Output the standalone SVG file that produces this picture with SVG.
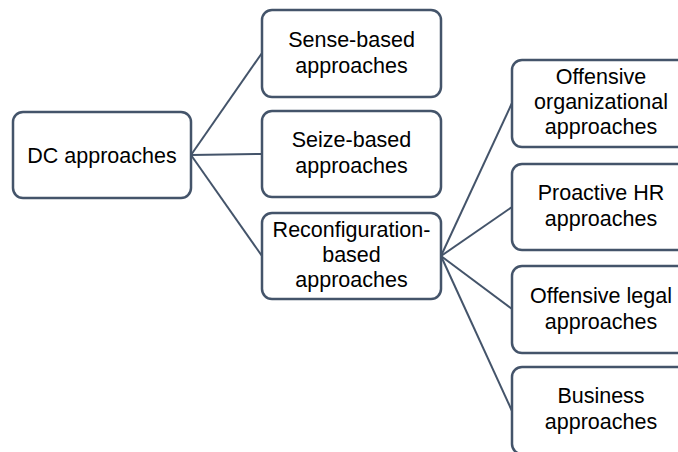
<svg xmlns="http://www.w3.org/2000/svg" width="678" height="452" viewBox="0 0 678 452">
  <style>
    .box { fill: #ffffff; stroke: #44546a; stroke-width: 2.5; }
    .lbl { font-family: "Liberation Sans", Arial, sans-serif; font-size: 21.5px; fill: #000000; text-anchor: middle; }
    .conn { stroke: #44546a; stroke-width: 2; fill: none; }
  </style>
  <rect width="678" height="452" fill="#ffffff"/>

  <g id="connectors">
    <line class="conn" x1="191" y1="155" x2="262" y2="53"/>
    <line class="conn" x1="191" y1="155" x2="262" y2="154"/>
    <line class="conn" x1="191" y1="155" x2="262" y2="256"/>
    <line class="conn" x1="441" y1="256" x2="512" y2="103"/>
    <line class="conn" x1="441" y1="256" x2="512" y2="207"/>
    <line class="conn" x1="441" y1="256" x2="512" y2="309"/>
    <line class="conn" x1="441" y1="256" x2="512" y2="411"/>
  </g>

  <g id="dc-approaches">
    <rect class="box" x="13" y="112" width="178" height="86" rx="10"/>
    <text class="lbl" x="102" y="163">DC approaches</text>
  </g>

  <g id="sense-based">
    <rect class="box" x="262" y="10" width="179" height="87" rx="10"/>
    <text class="lbl" x="351.5" y="47">Sense-based</text>
    <text class="lbl" x="351.5" y="73">approaches</text>
  </g>

  <g id="seize-based">
    <rect class="box" x="262" y="111" width="179" height="86" rx="10"/>
    <text class="lbl" x="351.5" y="147">Seize-based</text>
    <text class="lbl" x="351.5" y="173">approaches</text>
  </g>

  <g id="reconfiguration-based">
    <rect class="box" x="262" y="213" width="179" height="86" rx="10"/>
    <text class="lbl" x="351.5" y="237">Reconfiguration-</text>
    <text class="lbl" x="351.5" y="262">based</text>
    <text class="lbl" x="351.5" y="287">approaches</text>
  </g>

  <g id="offensive-organizational">
    <rect class="box" x="512" y="60" width="179" height="87" rx="10"/>
    <text class="lbl" x="601" y="84">Offensive</text>
    <text class="lbl" x="601" y="109">organizational</text>
    <text class="lbl" x="601" y="134">approaches</text>
  </g>

  <g id="proactive-hr">
    <rect class="box" x="512" y="164" width="179" height="86" rx="10"/>
    <text class="lbl" x="601" y="200">Proactive HR</text>
    <text class="lbl" x="601" y="226">approaches</text>
  </g>

  <g id="offensive-legal">
    <rect class="box" x="512" y="266" width="179" height="87" rx="10"/>
    <text class="lbl" x="601" y="303">Offensive legal</text>
    <text class="lbl" x="601" y="329">approaches</text>
  </g>

  <g id="business">
    <rect class="box" x="512" y="367" width="179" height="87" rx="10"/>
    <text class="lbl" x="601" y="403">Business</text>
    <text class="lbl" x="601" y="429">approaches</text>
  </g>
</svg>
